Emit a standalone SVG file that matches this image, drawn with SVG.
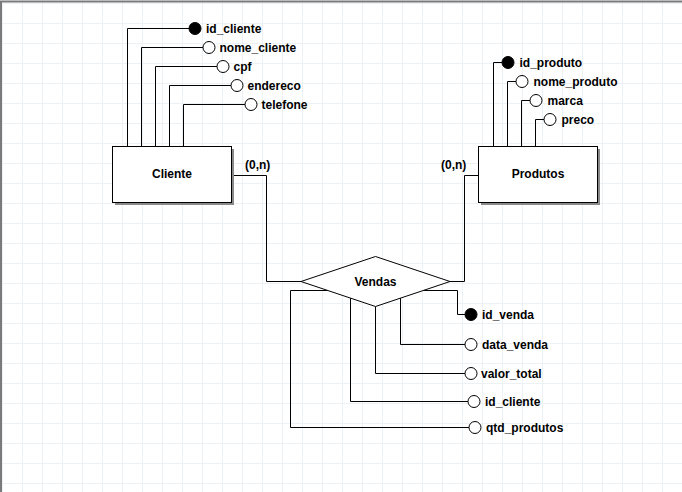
<svg xmlns="http://www.w3.org/2000/svg" width="682" height="492" viewBox="0 0 682 492">
  <style>
    text { font-family: "Liberation Sans", Arial, sans-serif; font-size: 12px; font-weight: bold; fill: #000; }
    .mid { text-anchor: middle; }
    .edge { fill: none; stroke: #000; stroke-width: 1; }
    .ent { fill: #fff; stroke: #000; stroke-width: 1; }
    .shadow { fill: #8a8a8a; }
    .att { fill: #fff; stroke: #000; stroke-width: 1; }
    .key { fill: #000; stroke: #000; stroke-width: 1; }
  </style>
  <defs>
    <pattern id="grid" patternUnits="userSpaceOnUse" x="2" y="3" width="20" height="20">
      <path d="M0.5 0 V20 M0 0.5 H20" fill="none" stroke="#ecf1f6" stroke-width="1"/>
    </pattern>
  </defs>

  <!-- canvas -->
  <rect x="0" y="0" width="682" height="492" fill="#fff"/>
  <rect x="0" y="0" width="682" height="492" fill="url(#grid)"/>
  <path d="M1 492 V1.5 H682" fill="none" stroke="#7a7a7a" stroke-width="2"/>

  <!-- connectors -->
  <g id="connectors" class="edge">
    <!-- Cliente attributes -->
    <path d="M127.5 146.5 V28.5 H189"/>
    <path d="M141.5 146.5 V47.5 H203"/>
    <path d="M155.5 146.5 V66.5 H217"/>
    <path d="M169.5 146.5 V85.5 H231"/>
    <path d="M183.5 146.5 V104.5 H245"/>
    <!-- Produtos attributes -->
    <path d="M493.5 146.5 V62.5 H502"/>
    <path d="M507.5 146.5 V81.5 H516"/>
    <path d="M521.5 146.5 V100.5 H530"/>
    <path d="M535.5 146.5 V119.5 H544"/>
    <!-- relationships -->
    <path d="M232 175.5 H266.5 V281.5 H301"/>
    <path d="M450 281.5 H464.5 V175.5 H478.5"/>
    <!-- Vendas attributes -->
    <path d="M423 290.5 H457.5 V314.5 H465"/>
    <path d="M400.5 298 V344.5 H465"/>
    <path d="M375.5 306.5 V373.5 H465"/>
    <path d="M350.5 298 V401.5 H468"/>
    <path d="M328 290.5 H290.5 V427.5 H469"/>
  </g>

  <!-- cardinalities -->
  <g id="cardinalities">
    <text x="245" y="169">(0,n)</text>
    <text x="441" y="169">(0,n)</text>
  </g>

  <!-- entities -->
  <g id="cliente">
    <rect class="shadow" x="115" y="149" width="119" height="56"/>
    <rect class="ent" x="112.5" y="146.5" width="119" height="56"/>
    <text class="mid" x="172" y="178">Cliente</text>
  </g>
  <g id="produtos">
    <rect class="shadow" x="481" y="149" width="119" height="56"/>
    <rect class="ent" x="478.5" y="146.5" width="119" height="56"/>
    <text class="mid" x="538" y="178">Produtos</text>
  </g>

  <!-- relationship -->
  <g id="vendas">
    <polygon class="ent" points="301,281.5 375.5,256.5 450,281.5 375.5,306.5"/>
    <text class="mid" x="375.5" y="286">Vendas</text>
  </g>

  <!-- Cliente attributes -->
  <g id="cliente-id_cliente"><circle class="key" cx="195" cy="28.5" r="6"/><text x="206" y="32.5">id_cliente</text></g>
  <g id="cliente-nome_cliente"><circle class="att" cx="209" cy="47.5" r="6"/><text x="219.5" y="51.5">nome_cliente</text></g>
  <g id="cliente-cpf"><circle class="att" cx="223" cy="66.5" r="6"/><text x="233.5" y="70.5">cpf</text></g>
  <g id="cliente-endereco"><circle class="att" cx="237" cy="85.5" r="6"/><text x="247.5" y="89.5">endereco</text></g>
  <g id="cliente-telefone"><circle class="att" cx="251" cy="104.5" r="6"/><text x="261.5" y="108.5">telefone</text></g>

  <!-- Produtos attributes -->
  <g id="produtos-id_produto"><circle class="key" cx="508" cy="62.5" r="6"/><text x="519.5" y="66.5">id_produto</text></g>
  <g id="produtos-nome_produto"><circle class="att" cx="522" cy="81.5" r="6"/><text x="533.5" y="85.5">nome_produto</text></g>
  <g id="produtos-marca"><circle class="att" cx="536" cy="100.5" r="6"/><text x="547.5" y="104.5">marca</text></g>
  <g id="produtos-preco"><circle class="att" cx="550" cy="119.5" r="6"/><text x="561.5" y="123.5">preco</text></g>

  <!-- Vendas attributes -->
  <g id="vendas-id_venda"><circle class="key" cx="471" cy="314.5" r="6"/><text x="482" y="318.5">id_venda</text></g>
  <g id="vendas-data_venda"><circle class="att" cx="471" cy="344.5" r="6"/><text x="482" y="348.5">data_venda</text></g>
  <g id="vendas-valor_total"><circle class="att" cx="471" cy="373.5" r="6"/><text x="481" y="377.5">valor_total</text></g>
  <g id="vendas-id_cliente"><circle class="att" cx="474" cy="401.5" r="6"/><text x="485" y="405.5">id_cliente</text></g>
  <g id="vendas-qtd_produtos"><circle class="att" cx="475" cy="427.5" r="6"/><text x="486" y="431.5">qtd_produtos</text></g>
</svg>
